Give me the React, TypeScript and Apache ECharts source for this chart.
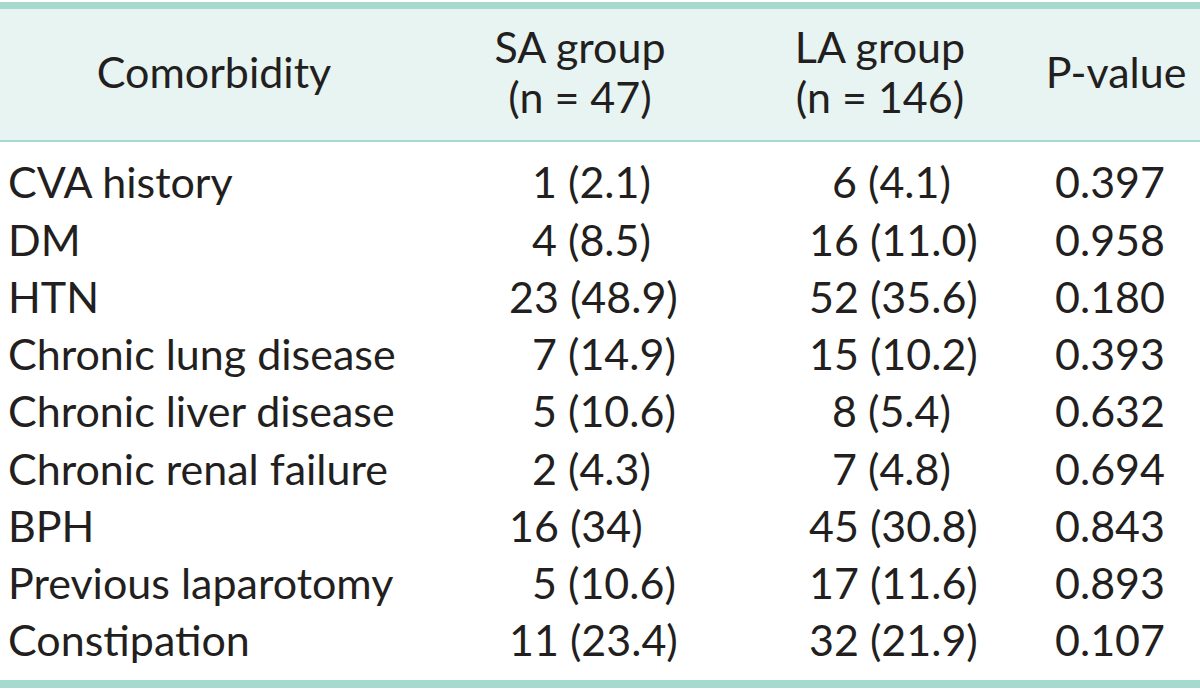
import React, { useEffect, useRef } from "react";
import * as echarts from "echarts";

const headers: string[][] = [["Comorbidity"], ["SA group", "(n = 47)"], ["LA group", "(n = 146)"], ["P-value"]];
const comorbidities: string[] = [
  "CVA history",
  "DM",
  "HTN",
  "Chronic lung disease",
  "Chronic liver disease",
  "Chronic renal failure",
  "BPH",
  "Previous laparotomy",
  "Constipation",
];
const saCounts: number[] = [1, 4, 23, 7, 5, 2, 16, 5, 11];
const saPct: string[] = ["2.1", "8.5", "48.9", "14.9", "10.6", "4.3", "34", "10.6", "23.4"];
const laCounts: number[] = [6, 16, 52, 15, 8, 7, 45, 17, 32];
const laPct: string[] = ["4.1", "11.0", "35.6", "10.2", "5.4", "4.8", "30.8", "11.6", "21.9"];
const pValues: string[] = ["0.397", "0.958", "0.180", "0.393", "0.632", "0.694", "0.843", "0.893", "0.107"];

const FONT = "Lato, 'Noto Sans', sans-serif";
const FS = 43;
const TEXT_COLOR = "#231f20";
const TEAL = "#a6dacf";
const HEADER_BG = "#e7f4f2";

export default function App() {
  const ref = useRef<HTMLDivElement>(null);
  useEffect(() => {
    document.body.style.margin = "0";
    if (!ref.current) return;
    const chart = echarts.init(ref.current, undefined, { renderer: "svg" });

    const W = 1200;
    const headerTop = 9;
    const headerBottom = 141;
    const baseline0 = 198;
    const rowStep = 57.25;
    const baseOffset = 37.6; // distance from text box top to baseline
    const digitW = 23;
    const headerCenters = [214, 580, 880, 1116];
    const saX = 509;
    const laX = 809;
    const pCenter = 1110;

    const els: any[] = [];
    els.push({ type: "rect", shape: { x: 0, y: headerTop, width: W, height: headerBottom - headerTop }, style: { fill: HEADER_BG } });
    els.push({ type: "rect", shape: { x: 0, y: 2, width: W, height: 7 }, style: { fill: TEAL } });
    els.push({ type: "rect", shape: { x: 0, y: headerBottom - 1, width: W, height: 2 }, style: { fill: TEAL } });
    els.push({ type: "rect", shape: { x: 0, y: 680, width: W, height: 8 }, style: { fill: TEAL } });

    const txt = (s: string, x: number, baseline: number, align: string) => ({
      type: "text",
      x,
      y: baseline - baseOffset,
      z: 10,
      style: {
        text: s,
        fill: TEXT_COLOR,
        fontSize: FS,
        fontFamily: FONT,
        textAlign: align,
        textVerticalAlign: "top",
      },
    });

    headers.forEach((lines, i) => {
      if (lines.length === 1) {
        els.push(txt(lines[0], headerCenters[i], 88, "center"));
      } else {
        els.push(txt(lines[0], headerCenters[i], 63, "center"));
        els.push(txt(lines[1], headerCenters[i], 113, "center"));
      }
    });

    comorbidities.forEach((name, r) => {
      const base = baseline0 + r * rowStep;
      els.push(txt(name, 8, base, "left"));
      els.push(txt(`${saCounts[r]} (${saPct[r]})`, saX + (saCounts[r] < 10 ? digitW : 0), base, "left"));
      els.push(txt(`${laCounts[r]} (${laPct[r]})`, laX + (laCounts[r] < 10 ? digitW : 0), base, "left"));
      els.push(txt(pValues[r], pCenter, base, "center"));
    });

    chart.setOption({
      animation: false,
      backgroundColor: "#ffffff",
      graphic: { elements: els },
    });
    return () => chart.dispose();
  }, []);
  return <div ref={ref} style={{ width: 1200, height: 691 }} />;
}
